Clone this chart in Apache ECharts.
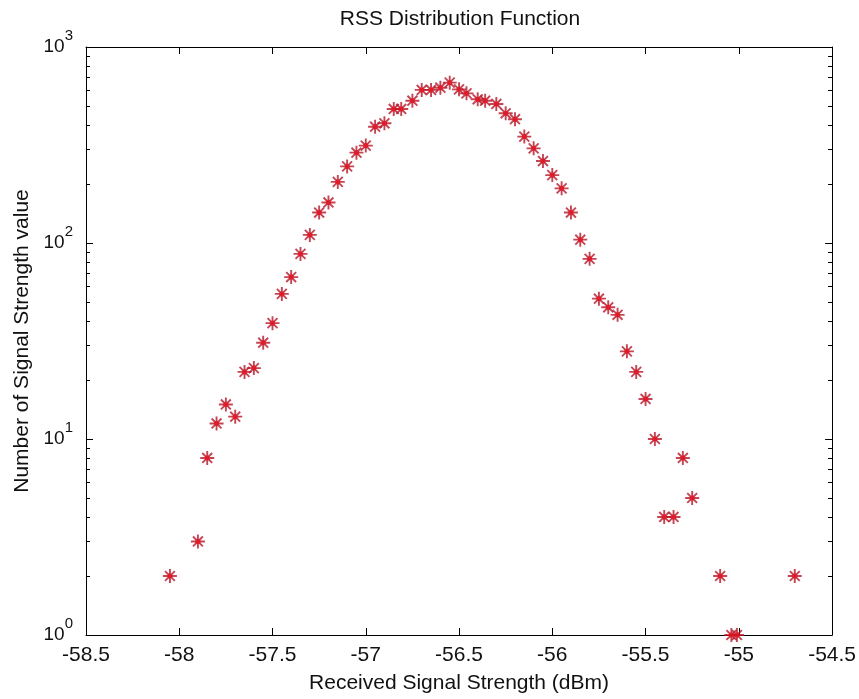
<!DOCTYPE html>
<html>
<head>
<meta charset="utf-8">
<script src="https://cdn.jsdelivr.net/npm/echarts@6/dist/echarts.min.js"></script>
<style>
  html, body { margin: 0; padding: 0; background: #fff; }
  #chart { width: 859px; height: 699px; }
</style>
</head>
<body>
<div id="chart"></div>
<script>
// Received signal strength (dBm)
const rss = [
  -58.05, -57.90, -57.85, -57.80, -57.75, -57.70, -57.65, -57.60, -57.55, -57.50,
  -57.45, -57.40, -57.35, -57.30, -57.25, -57.20, -57.15, -57.10, -57.05, -57.00,
  -56.95, -56.90, -56.85, -56.81, -56.75, -56.70, -56.65, -56.60, -56.55, -56.50,
  -56.46, -56.40, -56.36, -56.30, -56.25, -56.20, -56.15, -56.10, -56.05, -56.00,
  -55.95, -55.90, -55.85, -55.80, -55.75, -55.70, -55.65, -55.60, -55.55, -55.50,
  -55.45, -55.40, -55.35, -55.30, -55.25, -55.10, -55.04, -55.01, -54.70
];
// Number of occurrences of each value
const counts = [
  2, 3, 8, 12, 15, 13, 22, 23, 31, 39,
  55, 67, 88, 110, 143, 161, 205, 246, 289, 314,
  392, 408, 483, 483, 532, 604, 604, 620, 658, 608,
  580, 541, 532, 512, 459, 428, 349, 304, 262, 222,
  190, 143, 104, 83, 52, 47, 43, 28, 22, 16,
  10, 4, 4, 8, 5, 2, 1, 1, 2
];
// Axis ticks
const yMajorTicks = [1, 10, 100, 1000];
const yMajorExponents = ['0', '1', '2', '3'];
const yMinorTicks = [2, 3, 4, 5, 6, 7, 8, 9, 20, 30, 40, 50, 60, 70, 80, 90, 200, 300, 400, 500, 600, 700, 800, 900];

const chartTitle = 'RSS Distribution Function';
const xTitle = 'Received Signal Strength (dBm)';
const yTitle = 'Number of Signal Strength value';

const points = rss.map((x, i) => [x, counts[i]]);

const FONT = '"Liberation Sans", Arial, sans-serif';
const INK = '#111';
const asterisk = 'path://M0,-7L0,7M-7,0L7,0M-4.95,-4.95L4.95,4.95M-4.95,4.95L4.95,-4.95';

const chart = echarts.init(document.getElementById('chart'), null, { renderer: 'canvas' });

const lineStyle = { color: '#000', width: 1 };
function yAxisDef(position, ticks, len, extra) {
  return Object.assign({
    type: 'log', logBase: 10, min: 1, max: 1000, position: position,
    axisLine: { show: true, lineStyle: lineStyle },
    axisTick: { show: true, inside: true, length: len, customValues: ticks, lineStyle: lineStyle },
    axisLabel: { show: false },
    splitLine: { show: false },
    minorTick: { show: false },
    minorSplitLine: { show: false }
  }, extra || {});
}

chart.setOption({
  animation: false,
  backgroundColor: '#fff',
  title: {
    text: chartTitle,
    left: 460, top: 9, textAlign: 'center', padding: 0,
    textStyle: { fontFamily: FONT, fontSize: 21, fontWeight: 'normal', color: INK }
  },
  grid: { left: 86, right: 25, top: 47, bottom: 64, containLabel: false },
  xAxis: [
    {
      type: 'value', min: -58.5, max: -54.5, interval: 0.5, position: 'bottom',
      name: xTitle, nameLocation: 'middle', nameGap: 38,
      nameTextStyle: { fontFamily: FONT, fontSize: 21, color: INK },
      axisLine: { show: true, onZero: false, lineStyle: lineStyle },
      axisTick: { show: true, inside: true, length: 7, lineStyle: lineStyle },
      axisLabel: { fontFamily: FONT, fontSize: 21, color: INK, margin: 10, showMinLabel: true, showMaxLabel: true },
      splitLine: { show: false }
    },
    {
      type: 'value', min: -58.5, max: -54.5, interval: 0.5, position: 'top',
      axisLine: { show: true, onZero: false, lineStyle: lineStyle },
      axisTick: { show: true, inside: true, length: 7, lineStyle: lineStyle },
      axisLabel: { show: false },
      splitLine: { show: false }
    }
  ],
  yAxis: [
    yAxisDef('left', yMajorTicks, 7, {
      name: yTitle, nameLocation: 'middle', nameGap: 45, nameRotate: 90,
      nameTextStyle: { fontFamily: FONT, fontSize: 21, color: INK },
      axisLabel: {
        show: true, customValues: yMajorTicks, margin: 13,
        formatter: function (v) {
          const i = yMajorTicks.indexOf(v);
          return '{b|10}{s|' + yMajorExponents[i] + '}';
        },
        rich: {
          b: { fontFamily: FONT, fontSize: 19, color: INK, lineHeight: 19, verticalAlign: 'bottom', padding: [0, 0, 0, 0] },
          s: { fontFamily: FONT, fontSize: 15, color: INK, lineHeight: 15, verticalAlign: 'bottom', padding: [0, 0, 13, 0] }
        }
      }
    }),
    yAxisDef('left', yMinorTicks, 4, { axisLine: { show: false } }),
    yAxisDef('right', yMajorTicks, 7),
    yAxisDef('right', yMinorTicks, 4, { axisLine: { show: false } })
  ],
  series: [
    {
      type: 'scatter', xAxisIndex: 0, yAxisIndex: 0,
      data: points, symbol: asterisk, symbolSize: 14, clip: false,
      itemStyle: { color: '#b5182b', borderColor: '#b5182b', borderWidth: 1.9 },
      emphasis: { disabled: true }, silent: true
    },
    {
      type: 'scatter', xAxisIndex: 0, yAxisIndex: 0,
      data: points, symbol: 'circle', symbolSize: 5, clip: false,
      itemStyle: { color: '#e8121e' },
      emphasis: { disabled: true }, silent: true
    }
  ]
});
</script>
</body>
</html>
